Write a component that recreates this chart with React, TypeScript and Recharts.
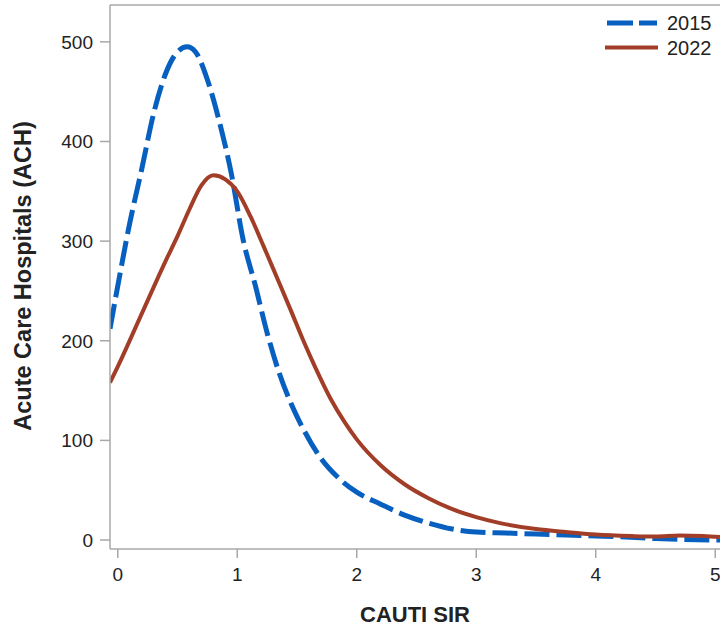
import { LineChart, Line, XAxis, YAxis, ReferenceLine } from "recharts";

// CAUTI SIR density curves
const xTicks = [0, 1, 2, 3, 4, 5];
const yTicks = [0, 100, 200, 300, 400, 500];

const sir2015 = [-0.065, 0, 0.1, 0.2, 0.3, 0.4, 0.5, 0.58, 0.65, 0.75, 0.85, 0.95, 1.05, 1.15, 1.25, 1.35, 1.45, 1.55, 1.7, 1.85, 2.0, 2.2, 2.4, 2.6, 2.8, 3.0, 3.25, 3.5, 3.75, 4.0, 4.25, 4.5, 4.75, 5.04];
const ach2015 = [212, 255, 318, 372, 428, 468, 490, 495, 490, 462, 420, 368, 301, 256, 208, 168, 137, 112, 82, 62, 48, 36, 25, 17, 11, 8, 7, 6, 5, 4, 3, 1.5, 0.5, 0];

const sir2022 = [-0.065, 0, 0.2, 0.4, 0.5, 0.6, 0.7, 0.8, 0.9, 1.0, 1.11, 1.22, 1.33, 1.45, 1.55, 1.65, 1.78, 1.9, 2.0, 2.2, 2.4, 2.6, 2.8, 3.0, 3.2, 3.5, 3.75, 4.0, 4.3, 4.5, 4.7, 4.9, 5.04];
const ach2022 = [158, 174, 227, 280, 305, 332, 356, 366, 362, 350, 325, 295, 264, 230, 201, 174, 142, 118, 101, 75, 56, 42, 31, 23, 17, 11, 8, 5.5, 4, 3.5, 4.5, 4, 3];

const data2015 = sir2015.map((x, i) => ({ x, y: ach2015[i] }));
const data2022 = sir2022.map((x, i) => ({ x, y: ach2022[i] }));

const BLUE = "#0760bf";
const BROWN = "#a23e28";
const AXIS = "#a8a8a8";
const INK = "#222";
const FONT = "'Liberation Sans', Arial, sans-serif";

// plot area runs from y=5 to y=549, so the title sits at its middle
function YTitle() {
  const cx = 23;
  const cy = 276;
  return (
    <text
      x={cx}
      y={cy}
      transform={`rotate(-90 ${cx} ${cy})`}
      textAnchor="middle"
      dominantBaseline="central"
      fill={INK}
      fontSize={23.5}
      fontWeight={700}
      fontFamily={FONT}
    >
      Acute Care Hospitals (ACH)
    </text>
  );
}

function Key() {
  return (
    <div style={{ position: "absolute", top: 8, left: 600 }}>
      <svg width={120} height={50} style={{ fontFamily: FONT }}>
        <line x1={7} x2={57} y1={15} y2={15} stroke={BLUE} strokeWidth={5} strokeDasharray="26 6" />
        <text x={67} y={22} fontSize={20} fill={INK}>2015</text>
        <line x1={5} x2={58} y1={39.5} y2={39.5} stroke={BROWN} strokeWidth={4} />
        <text x={67} y={46.5} fontSize={20} fill={INK}>2022</text>
      </svg>
    </div>
  );
}

export default function App() {
  return (
    <div style={{ position: "absolute", left: 0, top: 0, width: 720, height: 626, background: "#fff", fontFamily: FONT }}>
      <LineChart width={720} height={626} margin={{ top: 5, right: 0, bottom: 0, left: 0 }}>
        <XAxis
          type="number"
          dataKey="x"
          domain={[-0.065, 5.04]}
          ticks={xTicks}
          allowDataOverflow
          height={77}
          tickSize={9}
          tickMargin={10}
          stroke={AXIS}
          strokeWidth={1.5}
          tick={{ fill: INK, fontSize: 19, fontFamily: FONT }}
          label={{ value: "CAUTI SIR", position: "insideBottom", offset: 4, style: { fill: INK, fontSize: 22, fontWeight: 700, fontFamily: FONT } }}
        />
        <YAxis
          type="number"
          dataKey="y"
          domain={[-9, 537]}
          ticks={yTicks}
          allowDataOverflow
          width={110}
          tickSize={10}
          tickMargin={7}
          stroke={AXIS}
          strokeWidth={1.5}
          tick={{ fill: INK, fontSize: 19, fontFamily: FONT }}
          label={<YTitle />}
        />
        <ReferenceLine y={537} stroke={AXIS} strokeWidth={1.5} />
        <Line data={data2015} dataKey="y" type="monotone" stroke={BLUE} strokeWidth={5} strokeDasharray="25 7" dot={false} isAnimationActive={false} />
        <Line data={data2022} dataKey="y" type="monotone" stroke={BROWN} strokeWidth={4} dot={false} isAnimationActive={false} />
      </LineChart>
      <Key />
    </div>
  );
}
